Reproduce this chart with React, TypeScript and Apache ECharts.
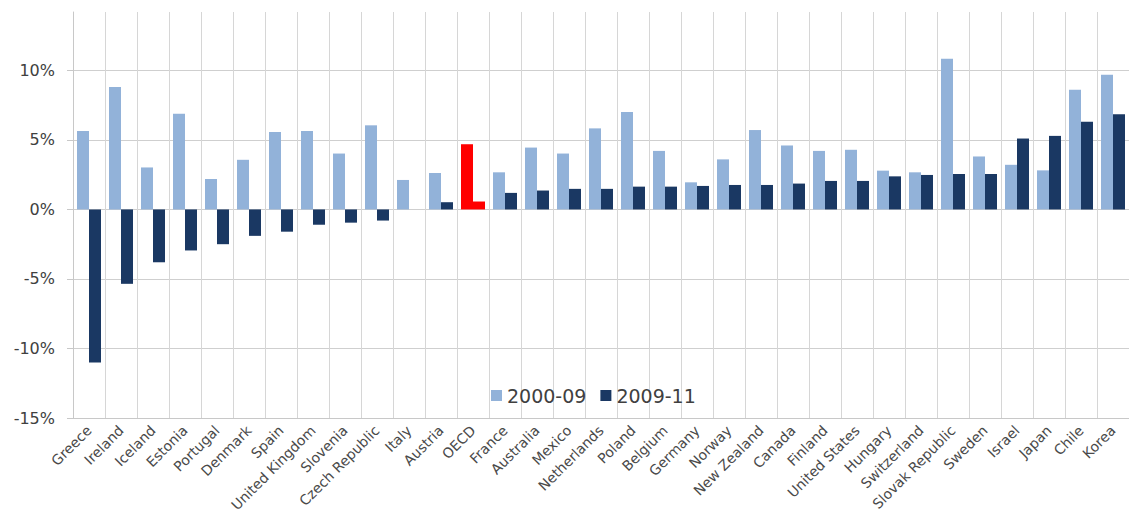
import React, { useEffect, useRef } from "react";
import * as echarts from "echarts";

const categories = [
  "Greece", "Ireland", "Iceland", "Estonia", "Portugal", "Denmark", "Spain",
  "United Kingdom", "Slovenia", "Czech Republic", "Italy", "Austria", "OECD",
  "France", "Australia", "Mexico", "Netherlands", "Poland", "Belgium", "Germany",
  "Norway", "New Zealand", "Canada", "Finland", "United States", "Hungary",
  "Switzerland", "Slovak Republic", "Sweden", "Israel", "Japan", "Chile", "Korea",
];

const growth2000_09 = [
  5.64, 8.81, 3.02, 6.88, 2.19, 3.57, 5.57, 5.64, 4.02, 6.05, 2.12, 2.62, 4.69,
  2.67, 4.45, 4.02, 5.83, 7.0, 4.21, 1.95, 3.6, 5.71, 4.6, 4.21, 4.29, 2.79,
  2.67, 10.83, 3.81, 3.21, 2.81, 8.6, 9.69,
];

const growth2009_11 = [
  -11.0, -5.35, -3.8, -2.95, -2.5, -1.9, -1.6, -1.1, -0.95, -0.8, 0, 0.52, 0.57,
  1.19, 1.36, 1.48, 1.48, 1.64, 1.64, 1.69, 1.76, 1.76, 1.86, 2.05, 2.05, 2.38,
  2.48, 2.55, 2.55, 5.1, 5.29, 6.31, 6.85,
];

const seriesNames = ["2000-09", "2009-11"];
const highlightCategory = "OECD";

const LIGHT = "#92b2d9";
const DARK = "#1a3863";
const RED = "#ff0000";

export default function App() {
  const ref = useRef<HTMLDivElement>(null);

  useEffect(() => {
    if (!ref.current) return;
    const chart = echarts.init(ref.current, undefined, { renderer: "svg" });
    const mk = (vals: number[], color: string) =>
      vals.map((v, i) =>
        categories[i] === highlightCategory
          ? { value: v, itemStyle: { color: RED } }
          : { value: v, itemStyle: { color } }
      );
    chart.setOption({
      animation: false,
      backgroundColor: "#ffffff",
      grid: { left: 73, top: 12, width: 1063, height: 406 },
      legend: {
        left: 486,
        top: 381,
        itemWidth: 11,
        itemHeight: 11,
        itemGap: 14,
        icon: "rect",
        data: seriesNames,
        textStyle: { fontFamily: "DejaVu Sans", fontSize: 19, color: "#404040" },
      },
      xAxis: {
        type: "category",
        data: categories,
        position: "bottom",
        axisLine: { show: true, onZero: false, lineStyle: { color: "#c8c8c8" } },
        axisTick: { show: false },
        splitLine: { show: true, interval: 0, lineStyle: { color: "#d6d6d6", width: 1 } },
        axisLabel: {
          interval: 0,
          rotate: 45,
          margin: 10,
          fontFamily: "DejaVu Sans",
          fontSize: 14,
          color: "#4a4a4a",
        },
      },
      yAxis: {
        type: "value",
        min: -15,
        max: 14.2,
        interval: 5,
        axisLine: { show: true, lineStyle: { color: "#c8c8c8" } },
        axisTick: { show: true, length: 6, inside: false, lineStyle: { color: "#c8c8c8" } },
        splitLine: { show: true, showMaxLine: false, lineStyle: { color: "#cfcfcf", width: 1 } },
        axisLabel: {
          showMaxLabel: false,
          margin: 18,
          fontFamily: "DejaVu Sans",
          fontSize: 16,
          color: "#404040",
          formatter: (v: number) => (Math.abs(v % 5) < 1e-6 ? `${v}%` : ""),
        },
      },
      series: [
        {
          name: seriesNames[0],
          type: "bar",
          data: mk(growth2000_09, LIGHT),
          itemStyle: { color: LIGHT },
          barGap: "0%",
          barCategoryGap: "25%",
        },
        {
          name: seriesNames[1],
          type: "bar",
          data: mk(growth2009_11, DARK),
          itemStyle: { color: DARK },
          barGap: "0%",
          barCategoryGap: "25%",
        },
      ],
    });
    return () => chart.dispose();
  }, []);

  return (
    <div
      ref={ref}
      style={{ position: "fixed", left: 0, top: 0, width: 1129, height: 517, background: "#fff" }}
    />
  );
}
